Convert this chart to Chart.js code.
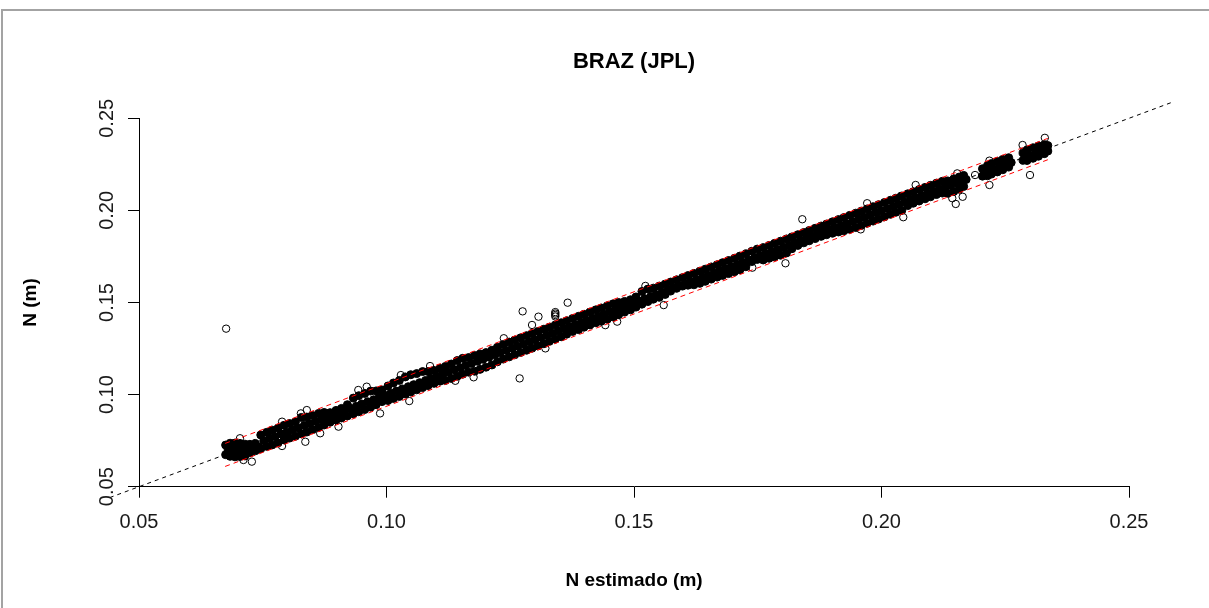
<!DOCTYPE html>
<html lang="pt">
<head>
<meta charset="utf-8">
<title>BRAZ (JPL)</title>
<script src="https://cdn.jsdelivr.net/npm/chart.js@4.4.1/dist/chart.umd.min.js"></script>
<style>
  html, body { margin: 0; padding: 0; background: #fff; }
  canvas { display: block; }
</style>
</head>
<body>
<canvas id="grafico" width="1209" height="608"></canvas>
<script>
// Title and axis tick labels
const chartTitle = 'BRAZ (JPL)';
const xTickLabels = ['0.05', '0.10', '0.15', '0.20', '0.25'];
const yTickLabels = ['0.05', '0.10', '0.15', '0.20', '0.25'];

// Overplotted observations (N estimado, N medido) along the main band, in metres
const densePoints = [
  [0.0675,0.0726],[0.0680,0.0700],[0.0675,0.0674],
  [0.0684,0.0736],[0.0689,0.0702],[0.0684,0.0665],
  [0.0694,0.0737],[0.0699,0.0699],[0.0694,0.0662],
  [0.0704,0.0735],[0.0709,0.0701],[0.0704,0.0664],
  [0.0714,0.0731],[0.0719,0.0698],[0.0714,0.0667],
  [0.0724,0.0730],[0.0730,0.0708],[0.0724,0.0684],
  [0.0735,0.0735],[0.0741,0.0716],[0.0735,0.0695],
  [0.0746,0.0781],[0.0752,0.0750],[0.0746,0.0706],
  [0.0758,0.0795],[0.0764,0.0763],[0.0758,0.0719],
  [0.0769,0.0807],[0.0775,0.0772],[0.0769,0.0727],
  [0.0781,0.0818],[0.0787,0.0786],[0.0781,0.0738],
  [0.0793,0.0833],[0.0799,0.0796],[0.0793,0.0754],
  [0.0804,0.0843],[0.0810,0.0809],[0.0804,0.0764],
  [0.0816,0.0852],[0.0822,0.0819],[0.0816,0.0774],
  [0.0828,0.0876],[0.0834,0.0833],[0.0828,0.0787],
  [0.0839,0.0878],[0.0845,0.0842],[0.0839,0.0797],
  [0.0851,0.0886],[0.0857,0.0855],[0.0851,0.0810],
  [0.0863,0.0898],[0.0869,0.0866],[0.0863,0.0822],
  [0.0874,0.0903],[0.0880,0.0877],[0.0874,0.0835],
  [0.0886,0.0902],[0.0892,0.0888],[0.0886,0.0850],
  [0.0898,0.0914],[0.0904,0.0901],[0.0898,0.0862],
  [0.0909,0.0925],[0.0915,0.0912],[0.0909,0.0873],
  [0.0921,0.0945],[0.0927,0.0925],[0.0921,0.0884],
  [0.0933,0.0981],[0.0939,0.0937],[0.0933,0.0896],
  [0.0944,0.0994],[0.0950,0.0949],[0.0944,0.0907],
  [0.0956,0.1006],[0.0962,0.0961],[0.0956,0.0919],
  [0.0968,0.1019],[0.0974,0.0972],[0.0968,0.0932],
  [0.0979,0.1020],[0.0985,0.0984],[0.0979,0.0945],
  [0.0991,0.1025],[0.0997,0.0996],[0.0991,0.0962],
  [0.1003,0.1047],[0.1009,0.1008],[0.1003,0.0968],
  [0.1014,0.1063],[0.1020,0.1019],[0.1014,0.0979],
  [0.1026,0.1077],[0.1032,0.1031],[0.1026,0.0990],
  [0.1038,0.1096],[0.1044,0.1043],[0.1038,0.1003],
  [0.1049,0.1108],[0.1055,0.1054],[0.1049,0.1014],
  [0.1061,0.1114],[0.1067,0.1065],[0.1061,0.1026],
  [0.1073,0.1125],[0.1079,0.1077],[0.1073,0.1038],
  [0.1084,0.1125],[0.1090,0.1088],[0.1084,0.1049],
  [0.1096,0.1131],[0.1102,0.1100],[0.1096,0.1061],
  [0.1108,0.1142],[0.1114,0.1111],[0.1108,0.1073],
  [0.1119,0.1153],[0.1125,0.1123],[0.1119,0.1077],
  [0.1131,0.1166],[0.1137,0.1135],[0.1131,0.1088],
  [0.1143,0.1185],[0.1149,0.1146],[0.1143,0.1100],
  [0.1154,0.1197],[0.1160,0.1158],[0.1154,0.1111],
  [0.1166,0.1201],[0.1172,0.1169],[0.1166,0.1122],
  [0.1178,0.1212],[0.1184,0.1181],[0.1178,0.1127],
  [0.1189,0.1221],[0.1195,0.1192],[0.1189,0.1137],
  [0.1201,0.1228],[0.1207,0.1203],[0.1201,0.1149],
  [0.1213,0.1241],[0.1219,0.1216],[0.1213,0.1161],
  [0.1224,0.1257],[0.1230,0.1228],[0.1224,0.1178],
  [0.1236,0.1272],[0.1242,0.1240],[0.1236,0.1193],
  [0.1248,0.1285],[0.1254,0.1252],[0.1248,0.1205],
  [0.1259,0.1296],[0.1265,0.1263],[0.1259,0.1216],
  [0.1271,0.1308],[0.1277,0.1275],[0.1271,0.1229],
  [0.1283,0.1320],[0.1289,0.1287],[0.1283,0.1241],
  [0.1294,0.1332],[0.1300,0.1298],[0.1294,0.1252],
  [0.1306,0.1343],[0.1312,0.1310],[0.1306,0.1264],
  [0.1318,0.1355],[0.1324,0.1322],[0.1318,0.1276],
  [0.1329,0.1366],[0.1335,0.1333],[0.1329,0.1289],
  [0.1341,0.1378],[0.1347,0.1345],[0.1341,0.1301],
  [0.1353,0.1390],[0.1359,0.1357],[0.1353,0.1314],
  [0.1364,0.1401],[0.1370,0.1368],[0.1364,0.1328],
  [0.1376,0.1413],[0.1382,0.1380],[0.1376,0.1343],
  [0.1388,0.1425],[0.1394,0.1392],[0.1388,0.1355],
  [0.1399,0.1436],[0.1405,0.1403],[0.1399,0.1366],
  [0.1411,0.1448],[0.1417,0.1415],[0.1411,0.1378],
  [0.1423,0.1460],[0.1429,0.1427],[0.1423,0.1390],
  [0.1434,0.1470],[0.1440,0.1438],[0.1434,0.1398],
  [0.1446,0.1482],[0.1452,0.1450],[0.1446,0.1409],
  [0.1458,0.1493],[0.1464,0.1462],[0.1458,0.1421],
  [0.1469,0.1500],[0.1475,0.1473],[0.1469,0.1434],
  [0.1481,0.1506],[0.1487,0.1485],[0.1481,0.1448],
  [0.1493,0.1515],[0.1499,0.1497],[0.1493,0.1460],
  [0.1504,0.1530],[0.1510,0.1508],[0.1504,0.1475],
  [0.1516,0.1560],[0.1522,0.1521],[0.1516,0.1491],
  [0.1528,0.1573],[0.1534,0.1533],[0.1528,0.1505],
  [0.1539,0.1578],[0.1545,0.1543],[0.1539,0.1518],
  [0.1551,0.1589],[0.1557,0.1556],[0.1551,0.1528],
  [0.1563,0.1600],[0.1569,0.1568],[0.1563,0.1544],
  [0.1574,0.1611],[0.1580,0.1580],[0.1574,0.1562],
  [0.1586,0.1623],[0.1592,0.1592],[0.1586,0.1577],
  [0.1598,0.1635],[0.1604,0.1603],[0.1598,0.1589],
  [0.1609,0.1646],[0.1615,0.1614],[0.1609,0.1594],
  [0.1621,0.1658],[0.1627,0.1625],[0.1621,0.1596],
  [0.1633,0.1670],[0.1639,0.1637],[0.1633,0.1604],
  [0.1644,0.1681],[0.1650,0.1648],[0.1644,0.1615],
  [0.1656,0.1693],[0.1662,0.1660],[0.1656,0.1627],
  [0.1668,0.1705],[0.1674,0.1672],[0.1668,0.1638],
  [0.1679,0.1716],[0.1685,0.1683],[0.1679,0.1647],
  [0.1691,0.1728],[0.1697,0.1695],[0.1691,0.1657],
  [0.1703,0.1740],[0.1709,0.1707],[0.1703,0.1667],
  [0.1714,0.1752],[0.1720,0.1718],[0.1714,0.1678],
  [0.1726,0.1764],[0.1732,0.1731],[0.1726,0.1694],
  [0.1738,0.1778],[0.1744,0.1744],[0.1738,0.1722],
  [0.1749,0.1790],[0.1755,0.1755],[0.1749,0.1734],
  [0.1761,0.1798],[0.1767,0.1765],[0.1761,0.1731],
  [0.1773,0.1810],[0.1779,0.1777],[0.1773,0.1740],
  [0.1784,0.1821],[0.1790,0.1788],[0.1784,0.1748],
  [0.1796,0.1833],[0.1802,0.1800],[0.1796,0.1757],
  [0.1808,0.1845],[0.1814,0.1812],[0.1808,0.1769],
  [0.1819,0.1856],[0.1825,0.1825],[0.1819,0.1792],
  [0.1831,0.1868],[0.1837,0.1838],[0.1831,0.1810],
  [0.1843,0.1880],[0.1849,0.1850],[0.1843,0.1824],
  [0.1854,0.1891],[0.1860,0.1861],[0.1854,0.1835],
  [0.1866,0.1903],[0.1872,0.1873],[0.1866,0.1847],
  [0.1878,0.1915],[0.1884,0.1885],[0.1878,0.1859],
  [0.1889,0.1926],[0.1895,0.1895],[0.1889,0.1868],
  [0.1901,0.1938],[0.1907,0.1906],[0.1901,0.1876],
  [0.1913,0.1950],[0.1919,0.1917],[0.1913,0.1883],
  [0.1924,0.1961],[0.1930,0.1928],[0.1924,0.1889],
  [0.1936,0.1973],[0.1942,0.1940],[0.1936,0.1897],
  [0.1948,0.1985],[0.1954,0.1952],[0.1948,0.1907],
  [0.1959,0.1996],[0.1965,0.1963],[0.1959,0.1918],
  [0.1971,0.2008],[0.1977,0.1975],[0.1971,0.1930],
  [0.1983,0.2020],[0.1989,0.1987],[0.1983,0.1942],
  [0.1994,0.2031],[0.2000,0.1998],[0.1994,0.1953],
  [0.2006,0.2043],[0.2012,0.2010],[0.2006,0.1965],
  [0.2018,0.2055],[0.2024,0.2022],[0.2018,0.1979],
  [0.2029,0.2066],[0.2035,0.2033],[0.2029,0.1990],
  [0.2041,0.2078],[0.2047,0.2045],[0.2041,0.2000],
  [0.2053,0.2090],[0.2059,0.2058],[0.2053,0.2026],
  [0.2064,0.2101],[0.2070,0.2069],[0.2064,0.2039],
  [0.2076,0.2113],[0.2082,0.2081],[0.2076,0.2051],
  [0.2088,0.2125],[0.2094,0.2093],[0.2088,0.2063],
  [0.2099,0.2136],[0.2105,0.2104],[0.2099,0.2074],
  [0.2111,0.2148],[0.2117,0.2116],[0.2111,0.2086],
  [0.2123,0.2158],[0.2129,0.2127],[0.2123,0.2094],
  [0.2134,0.2160],[0.2140,0.2137],[0.2134,0.2093],
  [0.2146,0.2171],[0.2152,0.2149],[0.2146,0.2103],
  [0.2157,0.2181],[0.2163,0.2160],[0.2157,0.2115],
  [0.2166,0.2190],[0.2171,0.2168],[0.2166,0.2130],
  [0.2204,0.2226],[0.2208,0.2206],[0.2204,0.2186],
  [0.2214,0.2243],[0.2219,0.2215],[0.2214,0.2188],
  [0.2222,0.2254],[0.2228,0.2225],[0.2222,0.2197],
  [0.2234,0.2266],[0.2240,0.2237],[0.2234,0.2209],
  [0.2245,0.2277],[0.2251,0.2249],[0.2245,0.2221],
  [0.2257,0.2286],[0.2262,0.2260],[0.2257,0.2235],
  [0.2286,0.2312],[0.2291,0.2292],[0.2286,0.2272],
  [0.2294,0.2328],[0.2300,0.2298],[0.2294,0.2271],
  [0.2306,0.2340],[0.2312,0.2310],[0.2306,0.2283],
  [0.2317,0.2350],[0.2323,0.2321],[0.2317,0.2294],
  [0.2329,0.2357],[0.2334,0.2333],[0.2329,0.2308],
  [0.2336,0.2352],[0.2336,0.2322]
];

// Observations standing apart from the band (band edges and outliers)
const loosePoints = [
  [0.0711,0.0645],[0.0728,0.0636],[0.0789,0.0721],[0.0836,0.0744],[0.0866,0.0790],
  [0.0903,0.0826],[0.0987,0.0898],[0.1046,0.0965],[0.1139,0.1075],[0.1176,0.1094],
  [0.1321,0.1251],[0.1388,0.1351],[0.1442,0.1377],[0.1466,0.1396],[0.1560,0.1486],
  [0.1739,0.1689],[0.1806,0.1713],[0.1958,0.1897],[0.2044,0.1963],[0.2143,0.2066],
  [0.2150,0.2035],[0.2164,0.2074],[0.2218,0.2138],
  [0.0704,0.0763],[0.0789,0.0853],[0.0827,0.0898],[0.0839,0.0916],[0.0943,0.1025],
  [0.0960,0.1043],[0.1029,0.1106],[0.1088,0.1155],[0.1237,0.1306],[0.1294,0.1378],
  [0.1523,0.1590],[0.1971,0.2039],[0.2039,0.2078],[0.2069,0.2138],[0.2153,0.2201],
  [0.2189,0.2192],[0.2218,0.2270],[0.2285,0.2355],
  [0.0676,0.1358],[0.1275,0.1452],[0.1307,0.1423],[0.1366,0.1499],[0.1341,0.1448],
  [0.1341,0.1440],[0.1341,0.1432],[0.1341,0.1424],[0.1269,0.1088],[0.1840,0.1952],
  [0.2300,0.2192],[0.2330,0.2394]
];

// Prediction band limits (start and end of each red line)
const upperLimit = [[0.0674,0.0735],[0.2336,0.2391]];
const lowerLimit = [[0.0674,0.0610],[0.2336,0.2275]];

// 1:1 reference line, across the whole figure region
const identity = [[0.0441,0.0441],[0.2585,0.2585]];

const toXY = arr => arr.map(([x, y]) => ({ x, y }));
const FONT = '"Liberation Sans", Arial, Helvetica, sans-serif';

// White page with the grey frame on the top and left edges
const framePlugin = {
  id: 'frame',
  beforeDraw(chart) {
    const c = chart.ctx;
    c.save();
    c.fillStyle = '#ffffff';
    c.fillRect(0, 0, chart.width, chart.height);
    c.strokeStyle = '#a3a3a3';
    c.lineWidth = 2;
    c.beginPath();
    c.moveTo(2, chart.height);
    c.lineTo(2, 10);
    c.lineTo(chart.width, 10);
    c.stroke();
    c.restore();
  }
};

// Main title, centred over the plotting area
const titlePlugin = {
  id: 'mainTitle',
  afterDraw(chart) {
    const a = chart.chartArea;
    const c = chart.ctx;
    c.save();
    c.fillStyle = '#000000';
    c.font = 'bold 22px ' + FONT;
    c.textAlign = 'center';
    c.textBaseline = 'alphabetic';
    c.fillText(chartTitle, (a.left + a.right) / 2, 68);
    c.restore();
  }
};

// Vertical tick labels of the y axis, read bottom to top
const yLabelPlugin = {
  id: 'yLabels',
  afterDraw(chart) {
    const s = chart.scales.y;
    const c = chart.ctx;
    c.save();
    c.fillStyle = '#1a1a1a';
    c.font = '20px ' + FONT;
    c.textAlign = 'center';
    c.textBaseline = 'alphabetic';
    s.ticks.forEach((t, i) => {
      const py = s.getPixelForValue(t.value);
      c.save();
      c.translate(s.right - 26.5, py);
      c.rotate(-Math.PI / 2);
      c.fillText(yTickLabels[i], 0, 0);
      c.restore();
    });
    c.restore();
  }
};

new Chart(document.getElementById('grafico'), {
  type: 'scatter',
  data: {
    datasets: [
      {
        type: 'line', data: toXY(upperLimit), borderColor: '#ff0000', borderWidth: 1,
        borderDash: [5, 4], pointRadius: 0, fill: false, tension: 0, clip: false, order: 0
      },
      {
        type: 'line', data: toXY(lowerLimit), borderColor: '#ff0000', borderWidth: 1,
        borderDash: [5, 4], pointRadius: 0, fill: false, tension: 0, clip: false, order: 0
      },
      {
        type: 'line', data: toXY(identity), borderColor: '#000000', borderWidth: 1,
        borderDash: [4, 4], pointRadius: 0, fill: false, tension: 0, clip: false, order: 1
      },
      {
        data: toXY(loosePoints), pointStyle: 'circle', pointRadius: 3.7, borderWidth: 1,
        borderColor: '#000000', backgroundColor: 'rgba(0,0,0,0)', clip: false, order: 2
      },
      {
        data: toXY(densePoints), pointStyle: 'circle', pointRadius: 4, borderWidth: 1,
        borderColor: '#000000', backgroundColor: '#000000', clip: false, order: 3
      }
    ]
  },
  options: {
    responsive: false,
    animation: false,
    devicePixelRatio: 1,
    events: [],
    layout: { padding: { left: 0, right: 80, top: 118.3, bottom: 0 } },
    plugins: {
      legend: { display: false },
      tooltip: { enabled: false },
      title: { display: false }
    },
    scales: {
      x: {
        type: 'linear',
        min: 0.05, max: 0.25,
        afterFit(s) { s.height = 121.3; },
        ticks: {
          stepSize: 0.05,
          padding: 12.5,
          color: '#1a1a1a',
          font: { family: FONT, size: 20 },
          maxRotation: 0,
          callback: (v, i) => xTickLabels[i]
        },
        grid: { drawOnChartArea: false, drawTicks: true, tickLength: 11, tickColor: '#000000', tickWidth: 1 },
        border: { display: true, color: '#000000', width: 1 },
        title: {
          display: true, text: 'N estimado (m)', color: '#000000',
          font: { family: FONT, size: 19, weight: 'bold' },
          padding: { top: 0, bottom: 16.3 }
        }
      },
      y: {
        type: 'linear',
        min: 0.05, max: 0.25,
        afterFit(s) { s.width = 139; },
        ticks: { stepSize: 0.05, display: false },
        grid: { drawOnChartArea: false, drawTicks: true, tickLength: 11, tickColor: '#000000', tickWidth: 1 },
        border: { display: true, color: '#000000', width: 1 },
        title: {
          display: true, text: 'N (m)', color: '#000000',
          font: { family: FONT, size: 19, weight: 'bold' },
          padding: { top: 19.3, bottom: 0 }
        }
      }
    }
  },
  plugins: [framePlugin, titlePlugin, yLabelPlugin]
});
</script>
</body>
</html>
